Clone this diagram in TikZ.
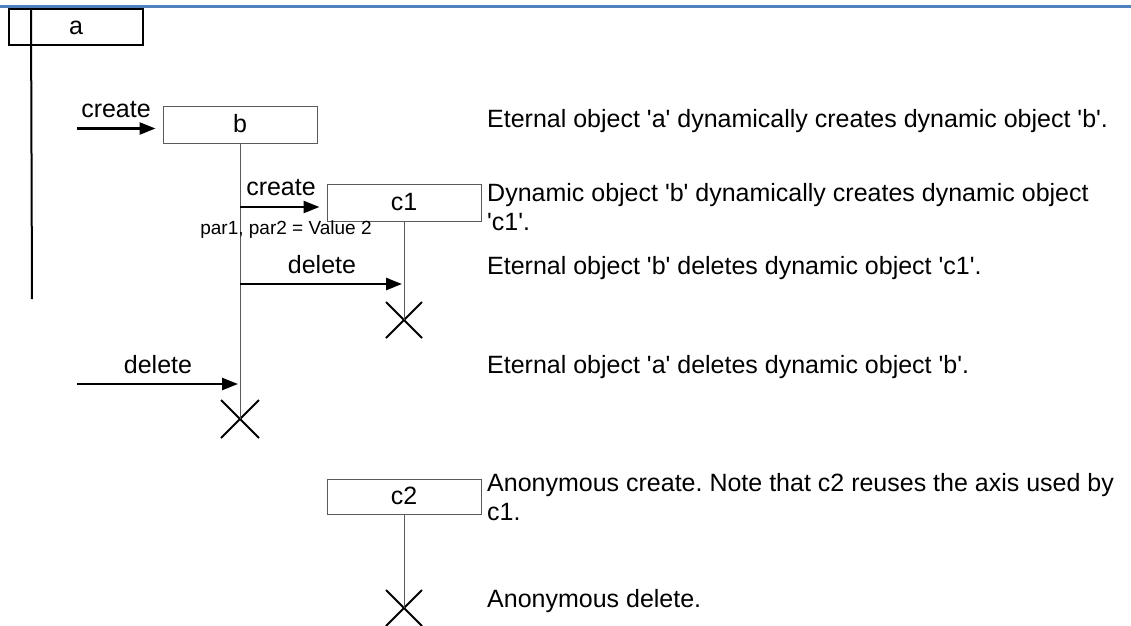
\documentclass[tikz,border=0pt]{standalone}
\usepackage{fontspec}
\setmainfont{Liberation Sans}[Ligatures=TeXOff]
\usetikzlibrary{arrows.meta,shapes.misc}
\definecolor{rulebl}{RGB}{79,129,189}
\definecolor{linegray}{RGB}{90,90,90}
\frenchspacing

\tikzset{
  lbl/.style={font=\fontsize{25}{28.75}\selectfont, inner sep=0pt},
  small/.style={font=\fontsize{19}{22}\selectfont, inner sep=0pt},
  objbox/.style={draw=linegray, line width=1pt, minimum width=154pt,
    minimum height=37pt, inner sep=0pt, font=\fontsize{25}{28.75}\selectfont,
    text height=18pt, text depth=3pt},
  eternal/.style={objbox, draw=black, line width=2pt, minimum width=134pt,
    minimum height=36pt},
  life/.style={draw=linegray, line width=1pt},
  elife/.style={draw=black, line width=2pt},
  msg/.style={draw=black, line width=2.5pt, -{Triangle[length=16pt,width=12pt]}},
  xmark/.style={cross out, draw=black, line width=2pt, minimum size=36pt, inner sep=0pt},
  note/.style={lbl, anchor=base west, align=left},
}

\begin{document}
\begin{tikzpicture}[x=1pt, y=-1pt]
\useasboundingbox (0,0) rectangle (1131,625);

% header rule
\coordinate (r0) at (0,6.5);
\coordinate (r1) at (1131,6.5);
\draw[rulebl, line width=3pt] (r0) -- (r1);

% objects
\node[eternal] (a) at (76,27) {a};
\node[objbox] (b) at (240,124.5) {b};
\node[objbox] (c1) at (404,202.5) {c1};
\node[objbox, minimum height=35pt] (c2) at (404,496.5) {c2};

% destruction marks
\node[xmark] (xb) at (240,419) {};
\node[xmark, minimum size=34pt] (xc1) at (404,320) {};
\node[xmark, minimum size=34pt] (xc2) at (404,608) {};

% lifelines
\coordinate (atop) at ([xshift=23pt]a.north west);
\coordinate (aend) at (32,299);
\draw[elife] (atop) -- (aend);
\draw[life] (b.south) -- (xb.center);
\draw[life] (c1.south) -- (xc1.center);
\draw[life] (c2.south) -- (xc2.center);

% messages
\coordinate (m1) at (77,128.5);
\draw[msg, shorten >=7pt] (m1) -- (m1 -| b.west);
\node[lbl, anchor=base] (l1) at (116,117) {create};

\coordinate (m2) at (240,207);
\draw[msg, shorten >=7pt] (m2) -- (m2 -| c1.west);
\node[lbl, anchor=base] (l2) at (281,195) {create};
\node[small, anchor=base] (p2) at (286,234) {par1, par2 = Value 2};

\coordinate (m3) at (240,284);
\draw[msg, shorten >=2pt] (m3) -- (m3 -| c1.south);
\node[lbl, anchor=base] (l3) at (322,273) {delete};

\coordinate (m4) at (77,384);
\draw[msg, shorten >=2pt] (m4) -- (m4 -| b.south);
\node[lbl, anchor=base] (l4) at (158,373) {delete};

% descriptions (multi-line notes are placed by their last baseline)
\node[note] (d1) at (487,127) {Eternal object 'a' dynamically creates dynamic object 'b'.};
\node[note] (d2) at (487,230) {Dynamic object 'b' dynamically creates dynamic object\\'c1'.};
\node[note] (d3) at (487,274) {Eternal object 'b' deletes dynamic object 'c1'.};
\node[note] (d4) at (487,373) {Eternal object 'a' deletes dynamic object 'b'.};
\node[note] (d5) at (487,520) {Anonymous create. Note that c2 reuses the axis used by\\c1.};
\node[note] (d6) at (487,607) {Anonymous delete.};
\end{tikzpicture}
\end{document}
